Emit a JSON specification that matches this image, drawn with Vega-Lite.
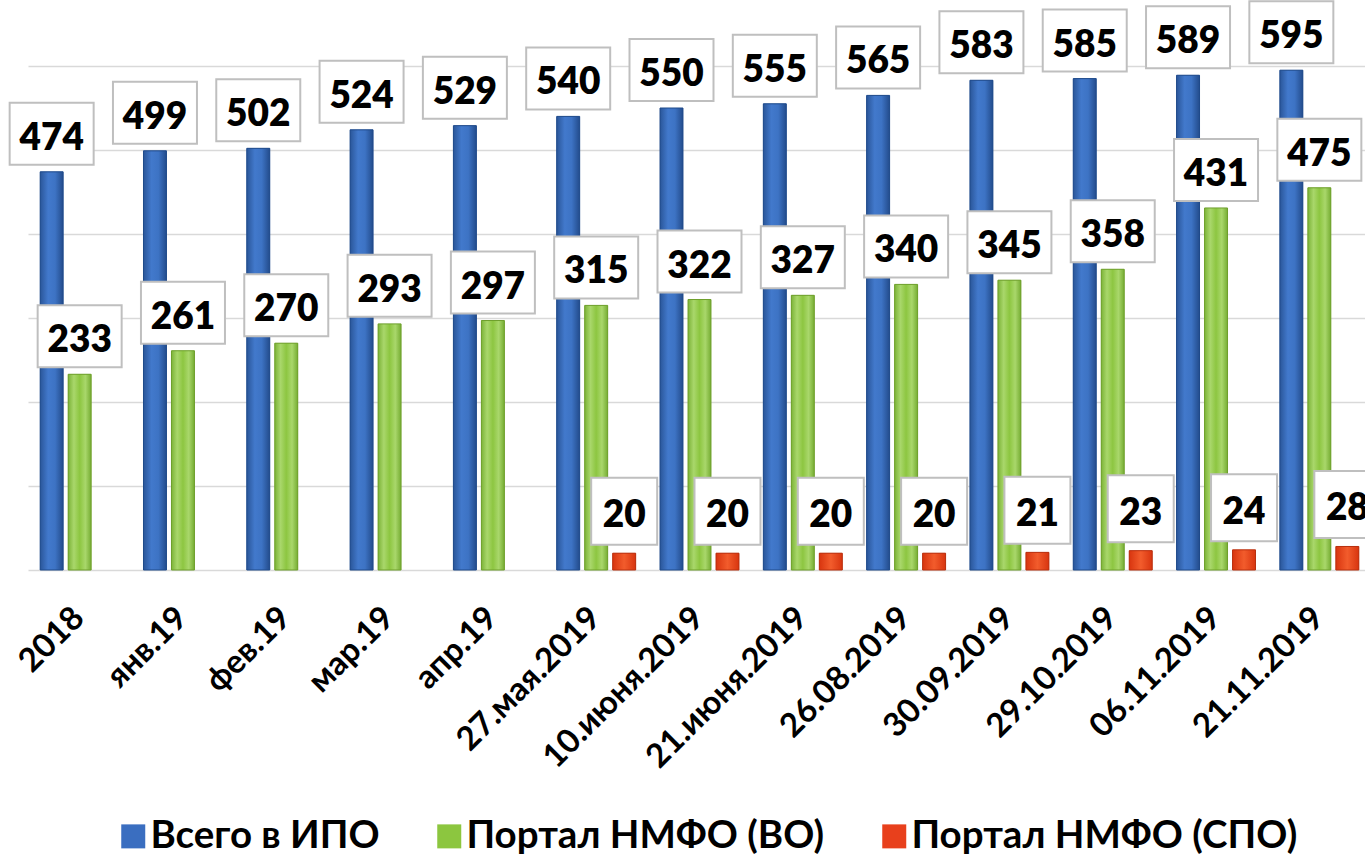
{
  "$schema": "https://vega.github.io/schema/vega-lite/v6.json",
  "width": 1337,
  "height": 504,
  "autosize": {"type": "none"},
  "padding": {"left": 28, "top": 66, "right": 0, "bottom": 285},
  "background": "white",
  "config": {"view": {"stroke": null}, "font": "Lato"},
  "data": {
    "values": [
      {"date": "2018", "series": "Всего в ИПО", "value": 474, "label": 474},
      {"date": "2018", "series": "Портал НМФО (ВО)", "value": 233, "label": 233},
      {"date": "янв.19", "series": "Всего в ИПО", "value": 499, "label": 499},
      {"date": "янв.19", "series": "Портал НМФО (ВО)", "value": 261, "label": 261},
      {"date": "фев.19", "series": "Всего в ИПО", "value": 502, "label": 502},
      {"date": "фев.19", "series": "Портал НМФО (ВО)", "value": 270, "label": 270},
      {"date": "мар.19", "series": "Всего в ИПО", "value": 524, "label": 524},
      {"date": "мар.19", "series": "Портал НМФО (ВО)", "value": 293, "label": 293},
      {"date": "апр.19", "series": "Всего в ИПО", "value": 529, "label": 529},
      {"date": "апр.19", "series": "Портал НМФО (ВО)", "value": 297, "label": 297},
      {"date": "27.мая.2019", "series": "Всего в ИПО", "value": 540, "label": 540},
      {"date": "27.мая.2019", "series": "Портал НМФО (ВО)", "value": 315, "label": 315},
      {"date": "27.мая.2019", "series": "Портал НМФО (СПО)", "value": 20, "label": 20},
      {"date": "10.июня.2019", "series": "Всего в ИПО", "value": 550, "label": 550},
      {"date": "10.июня.2019", "series": "Портал НМФО (ВО)", "value": 322, "label": 322},
      {"date": "10.июня.2019", "series": "Портал НМФО (СПО)", "value": 20, "label": 20},
      {"date": "21.июня.2019", "series": "Всего в ИПО", "value": 555, "label": 555},
      {"date": "21.июня.2019", "series": "Портал НМФО (ВО)", "value": 327, "label": 327},
      {"date": "21.июня.2019", "series": "Портал НМФО (СПО)", "value": 20, "label": 20},
      {"date": "26.08.2019", "series": "Всего в ИПО", "value": 565, "label": 565},
      {"date": "26.08.2019", "series": "Портал НМФО (ВО)", "value": 340, "label": 340},
      {"date": "26.08.2019", "series": "Портал НМФО (СПО)", "value": 20, "label": 20},
      {"date": "30.09.2019", "series": "Всего в ИПО", "value": 583, "label": 583},
      {"date": "30.09.2019", "series": "Портал НМФО (ВО)", "value": 345, "label": 345},
      {"date": "30.09.2019", "series": "Портал НМФО (СПО)", "value": 21, "label": 21},
      {"date": "29.10.2019", "series": "Всего в ИПО", "value": 585, "label": 585},
      {"date": "29.10.2019", "series": "Портал НМФО (ВО)", "value": 358, "label": 358},
      {"date": "29.10.2019", "series": "Портал НМФО (СПО)", "value": 23, "label": 23},
      {"date": "06.11.2019", "series": "Всего в ИПО", "value": 589, "label": 589},
      {"date": "06.11.2019", "series": "Портал НМФО (ВО)", "value": 431, "label": 431},
      {"date": "06.11.2019", "series": "Портал НМФО (СПО)", "value": 24, "label": 24},
      {"date": "21.11.2019", "series": "Всего в ИПО", "value": 595, "label": 595},
      {"date": "21.11.2019", "series": "Портал НМФО (ВО)", "value": 455, "label": 475},
      {"date": "21.11.2019", "series": "Портал НМФО (СПО)", "value": 28, "label": 28}
    ]
  },
  "encoding": {
    "x": {
      "field": "date", "type": "nominal", "sort": null,
      "scale": {"range": [0, 1343], "paddingInner": 0.187, "paddingOuter": 0.0935},
      "axis": {"title": null, "labelAngle": -45, "labelFontSize": 33, "labelFontWeight": "bold", "labelColor": "black", "labelFont": "Lato", "ticks": false, "domain": false, "labelPadding": 31, "labelOffset": -12, "labelLimit": 400}
    },
    "xOffset": {
      "field": "series", "type": "nominal",
      "scale": {"domain": ["Всего в ИПО", "Портал НМФО (ВО)", "Портал НМФО (СПО)"], "paddingInner": 0.18, "paddingOuter": 0.09}
    },
    "y": {
      "field": "value", "type": "quantitative",
      "scale": {"domain": [0, 600], "nice": false},
      "axis": {"title": null, "labels": false, "ticks": false, "domain": false, "grid": true, "gridColor": "#d9d9d9", "gridWidth": 1.5, "values": [0, 100, 200, 300, 400, 500, 600]}
    }
  },
  "layer": [
    {
      "mark": {"type": "bar"},
      "encoding": {
        "color": {
          "field": "series", "type": "nominal",
          "scale": {"domain": ["Всего в ИПО", "Портал НМФО (ВО)", "Портал НМФО (СПО)"], "range": ["#3A6EC0", "#8CC63F", "#E8401C"]},
          "legend": {"orient": "none", "legendX": 86, "legendY": 751, "direction": "horizontal", "title": null, "labelFont": "Lato", "labelFontSize": 38.5, "labelFontWeight": "bold", "labelColor": "black", "symbolType": "square", "symbolSize": 576, "symbolStrokeWidth": 0, "columnPadding": 50, "labelOffset": -2, "labelLimit": 600}
        }
      }
    },
    {
      "transform": [{"filter": "datum.series === 'Всего в ИПО'"}],
      "mark": {"type": "bar", "stroke": "#1f4a8a", "strokeWidth": 1, "color": {"gradient": "linear", "x1": 0, "x2": 1, "y1": 0, "y2": 0, "stops": [{"offset": 0, "color": "#2a5699"}, {"offset": 0.35, "color": "#4279cc"}, {"offset": 0.65, "color": "#3d73c4"}, {"offset": 1, "color": "#234c8c"}]}}
    },
    {
      "transform": [{"filter": "datum.series === 'Портал НМФО (ВО)'"}],
      "mark": {"type": "bar", "stroke": "#6e9f2c", "strokeWidth": 1, "color": {"gradient": "linear", "x1": 0, "x2": 1, "y1": 0, "y2": 0, "stops": [{"offset": 0, "color": "#7cb338"}, {"offset": 0.25, "color": "#a9d76b"}, {"offset": 0.5, "color": "#8dc641"}, {"offset": 0.75, "color": "#a9d76b"}, {"offset": 1, "color": "#76ad33"}]}}
    },
    {
      "transform": [{"filter": "datum.series === 'Портал НМФО (СПО)'"}],
      "mark": {"type": "bar", "stroke": "#b8300f", "strokeWidth": 1, "color": {"gradient": "linear", "x1": 0, "x2": 1, "y1": 0, "y2": 0, "stops": [{"offset": 0, "color": "#d8350f"}, {"offset": 0.5, "color": "#f25c2c"}, {"offset": 1, "color": "#d8350f"}]}}
    },
    {
      "transform": [{"filter": "datum.series !== 'Портал НМФО (СПО)'"}],
      "mark": {"type": "point", "shape": "M-1,-1.643L1,-1.643L1,-0.167L-1,-0.167Z", "size": 7056, "filled": true, "fill": "white", "stroke": "#bfbfbf", "strokeWidth": 2, "opacity": 1}
    },
    {
      "transform": [{"filter": "datum.series !== 'Портал НМФО (СПО)'"}],
      "mark": {"type": "text", "dy": -22, "baseline": "alphabetic", "fontSize": 37, "fontWeight": 800, "font": "Lato", "color": "black"},
      "encoding": {"text": {"field": "label", "type": "quantitative"}}
    },
    {
      "transform": [{"filter": "datum.series === 'Портал НМФО (СПО)'"}],
      "mark": {"type": "point", "shape": "M-1,-2.288L1,-2.288L1,-0.258L-1,-0.258Z", "size": 4356, "filled": true, "fill": "white", "stroke": "#bfbfbf", "strokeWidth": 2, "opacity": 1}
    },
    {
      "transform": [{"filter": "datum.series === 'Портал НМФО (СПО)'"}],
      "mark": {"type": "text", "dy": -26, "baseline": "alphabetic", "fontSize": 37, "fontWeight": 800, "font": "Lato", "color": "black"},
      "encoding": {"text": {"field": "label", "type": "quantitative"}}
    }
  ]
}
